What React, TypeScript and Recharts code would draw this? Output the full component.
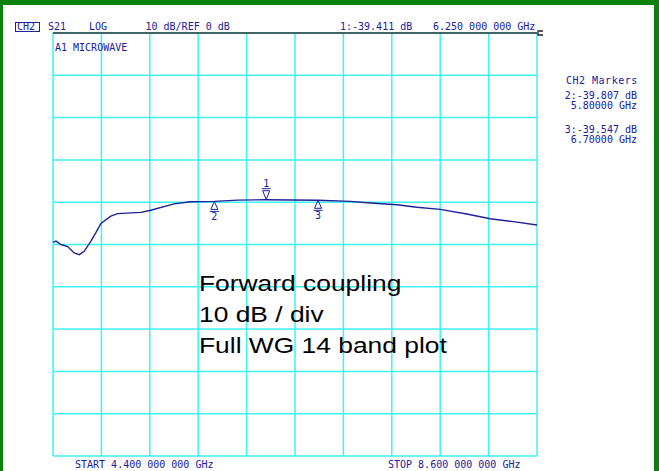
import { CartesianGrid, Line, LineChart, ReferenceDot, ReferenceLine, XAxis, YAxis } from "recharts";

const freqGHz = [
  4.4, 4.426, 4.469, 4.527, 4.584, 4.628, 4.671, 4.729, 4.772, 4.816, 4.902, 4.96, 5.162, 5.249, 5.45, 5.595,
  5.8, 6.002, 6.25, 6.7, 6.981, 7.154, 7.385, 7.558, 7.76, 7.991, 8.193, 8.395, 8.6,
];
const s21dB = [
  -49.5, -49.2, -50.0, -50.5, -52.0, -52.4, -51.6, -49.2, -47.2, -45.0, -43.3, -42.7, -42.4, -41.9, -40.4, -39.9,
  -39.81, -39.5, -39.41, -39.55, -39.8, -40.2, -40.6, -41.2, -41.7, -42.8, -43.9, -44.6, -45.4,
];

const xTicks = [4.4, 4.82, 5.24, 5.66, 6.08, 6.5, 6.92, 7.34, 7.76, 8.18, 8.6];
const yTicks = [-100, -90, -80, -70, -60, -50, -40, -30, -20, -10, 0];

const markerIds = ["1", "2", "3"];
const markerFreq = [6.25, 5.8, 6.7];
const markerDb = [-39.411, -39.807, -39.547];

const headerTexts = ["S21", "LOG", "10 dB/REF 0 dB", "1:-39.411 dB", "6.250 000 000 GHz"];
const markerPanel = ["2:-39.807 dB", "5.80000 GHz", "3:-39.547 dB", "6.70000 GHz"];
const noteLines = ["Forward coupling", "10 dB / div", "Full WG 14 band plot"];

const data = freqGHz.map((f, i) => ({ f, db: s21dB[i] }));

const NAVY = "#20209a";
const CYAN = "#3ef2f2";
const MONO = "'DejaVu Sans Mono', monospace";

const NoTick = () => <g />;

function MarkerShape(props: any) {
  const { cx, cy, id } = props;
  if (id === "1") {
    // inverted triangle above the trace
    return (
      <g>
        <text x={cx} y={cy - 13} textAnchor="middle" fontFamily={MONO} fontSize={10} fill={NAVY}>
          {id}
        </text>
        <line x1={cx - 4.5} x2={cx + 4.5} y1={cy - 11} y2={cy - 11} stroke={NAVY} strokeWidth={1} />
        <path d={`M${cx - 3.5},${cy - 9} L${cx + 3.5},${cy - 9} L${cx},${cy} Z`} fill="none" stroke={NAVY} strokeWidth={1} />
      </g>
    );
  }
  return (
    <g>
      <path d={`M${cx},${cy} L${cx + 3.5},${cy + 8} L${cx - 3.5},${cy + 8} Z`} fill="none" stroke={NAVY} strokeWidth={1} />
      <line x1={cx - 4.5} x2={cx + 4.5} y1={cy + 10} y2={cy + 10} stroke={NAVY} strokeWidth={1} />
      <text x={cx} y={cy + 19} textAnchor="middle" fontFamily={MONO} fontSize={10} fill={NAVY}>
        {id}
      </text>
    </g>
  );
}

function RefEnd(props: any) {
  const vb = props.viewBox || {};
  const x = (vb.x || 0) + (vb.width || 0);
  const y = vb.y || 0;
  return <path d={`M${x + 6},${y - 2} L${x + 1},${y - 2} L${x + 1},${y + 2} L${x + 6},${y + 2}`} fill="none" stroke="#222" strokeWidth={1.3} />;
}

export default function App() {
  const headerX = [48, 89, 145.5, 340, 433];
  const panelY = [99, 109, 133, 142.5];
  return (
    <div style={{ position: "absolute", left: 0, top: 0, width: 659, height: 471, background: "#fff" }}>
      <LineChart width={659} height={471} data={data} margin={{ top: 33, right: 122, bottom: 14, left: 52 }}>
        <CartesianGrid stroke={CYAN} strokeWidth={1.5} />
        <XAxis type="number" dataKey="f" domain={[4.4, 8.6]} ticks={xTicks} interval={0} tick={NoTick} axisLine={false} tickLine={false} height={1} />
        <YAxis type="number" domain={[-100, 0]} ticks={yTicks} interval={0} tick={NoTick} axisLine={false} tickLine={false} width={1} />
        <ReferenceLine y={0} stroke="#333" strokeWidth={1.5} label={<RefEnd />} />
        <Line type="linear" dataKey="db" stroke={NAVY} strokeWidth={1.4} dot={false} isAnimationActive={false} />
        {markerIds.map((id, i) => (
          <ReferenceDot key={id} x={markerFreq[i]} y={markerDb[i]} r={0} shape={(p: any) => <MarkerShape {...p} id={id} />} />
        ))}
      </LineChart>
      <svg width={659} height={471} style={{ position: "absolute", left: 0, top: 0, pointerEvents: "none" }}>
        <rect x={0} y={0} width={659} height={5} fill="#0b800b" />
        <rect x={0} y={0} width={3} height={471} fill="#0b800b" />
        <rect x={654} y={0} width={5} height={471} fill="#0b800b" />
        <rect x={15.5} y={22.5} width={24} height={9} fill="none" stroke={NAVY} strokeWidth={1} />
        <text x={17} y={29.5} fontFamily={MONO} fontSize={10} fill={NAVY}>CH2</text>
        {headerTexts.map((t, i) => (
          <text key={t} x={headerX[i]} y={29.5} fontFamily={MONO} fontSize={10} fill={NAVY}>
            {t}
          </text>
        ))}
        <text x={55} y={51} fontFamily={MONO} fontSize={10} fill={NAVY}>A1 MICROWAVE</text>
        <text x={566} y={83.5} fontFamily={MONO} fontSize={10} letterSpacing={0.5} fill={NAVY}>CH2 Markers</text>
        {markerPanel.map((t, i) => (
          <text key={t} x={637} y={panelY[i]} textAnchor="end" fontFamily={MONO} fontSize={10} fill={NAVY}>
            {t}
          </text>
        ))}
        <text x={75} y={467.5} fontFamily={MONO} fontSize={10} fill={NAVY}>START 4.400 000 000 GHz</text>
        <text x={388} y={467.5} fontFamily={MONO} fontSize={10} fill={NAVY}>STOP 8.600 000 000 GHz</text>
        <g transform="translate(199,0) scale(1.2,1)">
          {noteLines.map((t, i) => (
            <text key={t} x={0} y={291 + i * 31} fontFamily="'Liberation Sans', Arial, sans-serif" fontSize={22} fill="#000">
              {t}
            </text>
          ))}
        </g>
      </svg>
    </div>
  );
}
